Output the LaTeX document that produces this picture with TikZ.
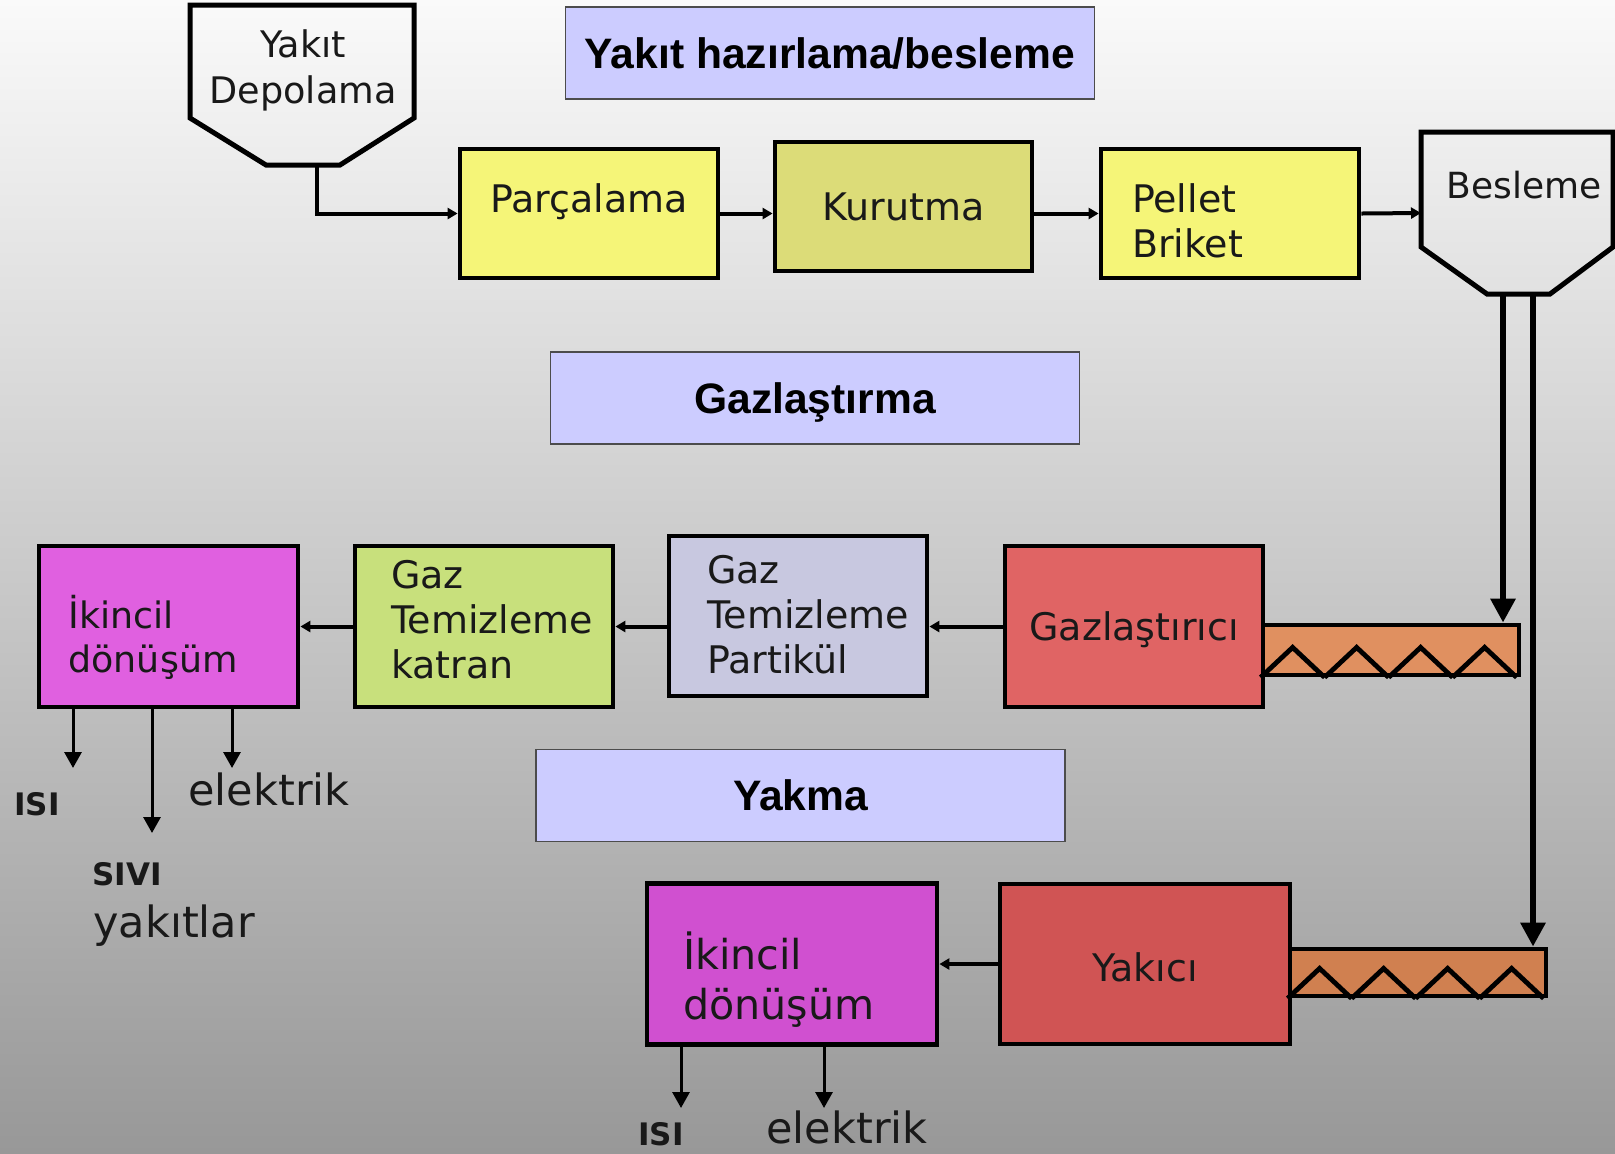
\documentclass[tikz,border=0pt]{standalone}
\usepackage{fontspec}
\setmainfont{DejaVu Sans}
\newfontfamily\baslikfont{Liberation Sans}
\usetikzlibrary{arrows.meta,calc}

\definecolor{ustgri}{HTML}{FAFAFA}
\definecolor{altgri}{HTML}{989898}
\definecolor{sari}{HTML}{F5F578}
\definecolor{koyusari}{HTML}{DCDC78}
\definecolor{yesil}{HTML}{C8E07C}
\definecolor{lila}{HTML}{C8C8E0}
\definecolor{kirmizi}{HTML}{E06464}
\definecolor{koyukirmizi}{HTML}{D05454}
\definecolor{mor}{HTML}{E060E0}
\definecolor{koyumor}{HTML}{D050D0}
\definecolor{turuncu}{HTML}{E09060}
\definecolor{koyuturuncu}{HTML}{D08050}
\definecolor{mavi}{HTML}{CCCCFF}

\begin{document}
\begin{tikzpicture}[x=0.5pt,y=-0.5pt,
	kutu/.style={draw=black,line width=2.4pt,inner sep=2pt,text=black!90,
		font=\fontsize{19}{22.5}\selectfont},
	baslik/.style={draw=black!70,line width=0.7pt,fill=mavi,
		minimum width=264.5pt,minimum height=46pt,text height=15.5pt,text depth=0.5pt,
		font=\baslikfont\bfseries\fontsize{21.3}{25}\selectfont},
	vida/.style={draw=black,line width=2.4pt,minimum width=128pt},
	hazne/.style={draw=black,line width=2.5pt},
	ok/.style={line width=2pt,-{Triangle[length=5pt,width=5.5pt]}},
	kalinok/.style={line width=3pt,-{Triangle[length=12pt,width=12pt]}},
	cikis/.style={line width=1.5pt,-{Triangle[length=8pt,width=8.5pt]}},
	yazi/.style={inner sep=0pt,text=black!90,font=\fontsize{21.5}{25}\selectfont},
	kalin/.style={inner sep=0pt,text=black!90,font=\bfseries\fontsize{15.5}{18}\selectfont}]

	\useasboundingbox (0,0) rectangle (1615,1153);
	\shade[top color=ustgri,bottom color=altgri] (0,0) rectangle (1615,1153);

	\node[baslik] (b1) at (830,53) {Yakıt hazırlama/besleme};
	\node[baslik] (b2) at (815,398) {Gazlaştırma};
	\node[baslik] (b3) at (800.5,795.5) {Yakma};

	\draw[hazne] (190,5) -- (414,5) -- (414,118) -- (340,165) -- (266,165) -- (190,118) -- cycle;
	\node[text=black!90,font=\fontsize{18.3}{23}\selectfont,align=center] (depo) at (303,70) {Yakıt\\Depolama};
	\coordinate (depo-alt) at (317,165);

	\node[kutu,fill=sari,minimum width=129pt,minimum height=64.5pt,text height=14pt,text depth=15.5pt] (parca) at (589,213.5) {Parçalama};
	\node[kutu,fill=koyusari,minimum width=128.5pt,minimum height=64.5pt] (kurut) at (903.5,206.5) {Kurutma};
	\node[kutu,fill=sari,minimum width=129pt,minimum height=64.5pt,align=left,text width=98pt,text height=14pt,text depth=15.5pt] (pellet) at (1230,213.5) {Pellet\\Briket};

	\draw[hazne] (1421,132) -- (1613,132) -- (1613,247) -- (1550,294) -- (1487,294) -- (1421,247) -- cycle;
	\node[text=black!90,font=\fontsize{18}{22}\selectfont] (besle) at (1524,185) {Besleme};
	\coordinate (besle-sol) at (1421,213);
	\coordinate (besle-a) at (1503,294);
	\coordinate (besle-b) at (1533,294);

	\node[kutu,fill=kirmizi,minimum width=129pt,minimum height=80.5pt,text height=14pt,text depth=0pt] (gaz) at (1134,626.5) {Gazlaştırıcı};
	\node[vida,fill=turuncu,minimum height=25pt] (vida1) at (1391,650) {};
	\node[kutu,fill=lila,minimum width=129pt,minimum height=80pt,align=left,text width=91pt,text height=14pt,text depth=47pt] (partikul) at (798,616) {Gaz\\\mbox{Temizleme}\\Partikül};
	\node[kutu,fill=yesil,minimum width=129pt,minimum height=80.5pt,align=left,text width=93pt,text height=14pt,text depth=52.5pt] (katran) at (484,626.5) {Gaz\\\mbox{Temizleme}\\katran};
	\node[kutu,fill=mor,minimum width=129.5pt,minimum height=80.5pt,align=left,text width=100pt,text height=20pt,text depth=18.5pt,font=\fontsize{18.2}{22}\selectfont] (ikincil1) at (168.5,626.5) {İkincil\\dönüşüm};

	\node[kutu,fill=koyukirmizi,minimum width=145pt,minimum height=80pt,text height=17.4pt,text depth=0pt] (yakici) at (1145,964) {Yakıcı};
	\node[vida,fill=koyuturuncu,minimum height=23.5pt] (vida2) at (1418,972.5) {};
	\node[kutu,fill=koyumor,minimum width=145pt,minimum height=80.5pt,align=left,text width=109pt,text height=20pt,text depth=15pt,font=\fontsize{20.6}{25}\selectfont] (ikincil2) at (792,964) {İkincil\\dönüşüm};

	\foreach \v in {vida1,vida2}
		\foreach \i in {0,...,3}
			\draw[line width=2.4pt] ($(\v.south west)+(64*\i,0)$) -- ++(32,-30) -- ++(32,30);

	\draw[ok] (depo-alt) |- (parca.west);
	\draw[ok] (parca.east) -- (parca.east -| kurut.west);
	\draw[ok] (kurut.east |- pellet.west) -- (pellet.west);
	\draw[ok] (pellet.east) -- (besle-sol);
	\draw[kalinok] (besle-a) -- (besle-a |- vida1.north);
	\draw[kalinok] (besle-b) -- (besle-b |- vida2.north);

	\draw[ok] (gaz.west) -- (gaz.west -| partikul.east);
	\draw[ok] (katran.east -| partikul.west) -- (katran.east);
	\draw[ok] (katran.west) -- (ikincil1.east);
	\draw[ok] (yakici.west) -- (ikincil2.east);

	\coordinate (u1) at (73,768);
	\coordinate (u2) at (152,833);
	\coordinate (u3) at (232,768);
	\coordinate (u4) at (681,1108);
	\coordinate (u5) at (824,1108);
	\draw[cikis] (u1 |- ikincil1.south) -- (u1);
	\draw[cikis] (u2 |- ikincil1.south) -- (u2);
	\draw[cikis] (u3 |- ikincil1.south) -- (u3);
	\draw[cikis] (u4 |- ikincil2.south) -- (u4);
	\draw[cikis] (u5 |- ikincil2.south) -- (u5);

	\node[kalin,anchor=base west] (isi1) at (14,815) {ISI};
	\node[yazi,anchor=base west] (elektrik1) at (188,805) {elektrik};
	\node[kalin,anchor=base west] (sivi) at (92,885) {SIVI};
	\node[yazi,anchor=base west] (yakitlar) at (93,937) {yakıtlar};
	\node[kalin,anchor=base west] (isi2) at (638,1145) {ISI};
	\node[yazi,anchor=base west] (elektrik2) at (766,1143) {elektrik};
\end{tikzpicture}
\end{document}
